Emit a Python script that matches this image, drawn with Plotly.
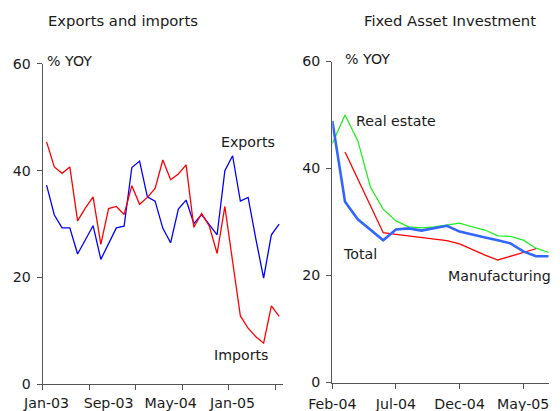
import plotly.graph_objects as go

# ---- Left panel: Exports and imports (% YOY), monthly Jan-03 .. Jul-05
trade_months = ["Jan-03","Feb-03","Mar-03","Apr-03","May-03","Jun-03","Jul-03","Aug-03","Sep-03","Oct-03",
                "Nov-03","Dec-03","Jan-04","Feb-04","Mar-04","Apr-04","May-04","Jun-04","Jul-04","Aug-04",
                "Sep-04","Oct-04","Nov-04","Dec-04","Jan-05","Feb-05","Mar-05","Apr-05","May-05","Jun-05","Jul-05"]
exports = [37.3, 31.7, 29.3, 29.3, 24.4, 27.2, 29.7, 23.4, 26.3, 29.3,
           29.6, 40.6, 41.8, 35.1, 34.3, 29.2, 26.5, 32.8, 34.5, 30.1,
           31.8, 30.0, 28.0, 40.0, 42.8, 34.3, 35.0, 27.2, 19.9, 28.0, 30.0]
imports = [45.4, 40.7, 39.5, 40.7, 30.6, 33.0, 35.1, 26.2, 32.9, 33.3,
           31.8, 37.2, 33.7, 35.0, 36.7, 42.0, 38.3, 39.4, 41.1, 29.4,
           32.0, 29.6, 24.5, 33.3, 23.0, 12.8, 10.5, 8.9, 7.7, 14.7, 12.7]
trade_label_idx = [0, 8, 16, 24]

# ---- Right panel: Fixed Asset Investment (% YOY), monthly Feb-04 .. Jul-05
fai_months = ["Feb-04","Mar-04","Apr-04","May-04","Jun-04","Jul-04","Aug-04","Sep-04","Oct-04","Nov-04",
              "Dec-04","Jan-05","Feb-05","Mar-05","Apr-05","May-05","Jun-05","Jul-05"]
fai_total = [48.9, 33.8, 30.5, 28.5, 26.6, 28.6, 28.8, 28.4, 28.8, 29.3,
             28.2, 27.6, 27.1, 26.6, 26.0, 24.5, 23.6, 23.6]
fai_real_estate = [44.7, 50.0, 45.2, 36.5, 32.4, 30.2, 29.1, 28.9, 29.1, 29.4,
                   29.8, 29.1, 28.5, 27.4, 27.3, 26.6, 25.1, 24.3]
fai_manufacturing = [None, 43.1, 38.1, 33.1, 28.0, 27.7, 27.4, 27.1, 26.8, 26.5,
                     25.9, 24.8, 23.8, 22.9, 23.6, 24.3, 25.0, None]
fai_label_idx = [0, 5, 10, 15]

y_ticks = [0, 20, 40, 60]

FONT = "DejaVu Sans"
TXT = "#1a1a1a"
AX = "#555555"
FS = 14.2
FS_TITLE = 14.8

# The page body has an 8px margin, so the figure is drawn 8px smaller and
# all reference pixel positions are shifted by that offset.
OFF = 8
W, H = 560 - OFF, 411 - OFF

def px_x(p):
    return (p - OFF) / W

def px_y(p):
    return 1 - (p - OFF) / H

fig = go.Figure()

xi = list(range(len(trade_months)))
fig.add_trace(go.Scatter(x=xi, y=exports, mode="lines", line=dict(color="#0000FF", width=1.3),
                         name="Exports", xaxis="x", yaxis="y", hoverinfo="skip"))
fig.add_trace(go.Scatter(x=xi, y=imports, mode="lines", line=dict(color="#FF0000", width=1.3),
                         name="Imports", xaxis="x", yaxis="y", hoverinfo="skip"))

fi = list(range(len(fai_months)))
fig.add_trace(go.Scatter(x=fi, y=fai_real_estate, mode="lines", line=dict(color="#22EE22", width=1.3),
                         name="Real estate", xaxis="x2", yaxis="y2", hoverinfo="skip"))
fig.add_trace(go.Scatter(x=fi, y=fai_manufacturing, mode="lines", line=dict(color="#FF0000", width=1.3),
                         name="Manufacturing", xaxis="x2", yaxis="y2", hoverinfo="skip", connectgaps=False))
fig.add_trace(go.Scatter(x=fi, y=fai_total, mode="lines", line=dict(color="#3366FF", width=2.6),
                         name="Total", xaxis="x2", yaxis="y2", hoverinfo="skip"))

n_trade = len(trade_months)
n_fai = len(fai_months)

common_axis = dict(showgrid=False, zeroline=False, showline=True, linecolor=AX, linewidth=1.3,
                   tickfont=dict(family=FONT, size=FS, color=TXT), fixedrange=True,
                   automargin=False)

fig.update_layout(
    width=W, height=H,
    autosize=False,
    margin=dict(l=0, r=0, t=0, b=0, pad=0),
    paper_bgcolor="white", plot_bgcolor="white",
    showlegend=False,
    font=dict(family=FONT, size=FS, color=TXT),
    xaxis=dict(**common_axis,
               domain=[px_x(42.7), px_x(283.0)],
               range=[-0.5, n_trade - 0.5],
               tickmode="array",
               tickvals=trade_label_idx,
               ticktext=[trade_months[i] for i in trade_label_idx],
               ticks="",
               ticklabelstandoff=6,
               minor=dict(tickmode="array",
                          tickvals=[k - 0.5 for k in range(0, n_trade, 6)],
                          ticks="outside", ticklen=5, tickcolor=AX, tickwidth=1.3),
               anchor="y"),
    yaxis=dict(**common_axis,
               domain=[px_y(384.3), px_y(63.9)],
               range=[0, 60],
               tickmode="array", tickvals=y_ticks,
               ticks="outside", ticklen=5, tickcolor=AX, tickwidth=1.3,
               ticklabelstandoff=3,
               anchor="x"),
    xaxis2=dict(**common_axis,
                domain=[px_x(332.3), px_x(548.7)],
                range=[0, n_fai - 1],
                tickmode="array",
                tickvals=fai_label_idx,
                ticktext=[fai_months[i] for i in fai_label_idx],
                ticks="outside", ticklen=5, tickcolor=AX, tickwidth=1.3,
                ticklabelstandoff=3,
                anchor="y2"),
    yaxis2=dict(**common_axis,
                domain=[px_y(382.5), px_y(61.5)],
                range=[0, 60],
                tickmode="array", tickvals=y_ticks,
                ticks="outside", ticklen=5, tickcolor=AX, tickwidth=1.3,
                ticklabelstandoff=3,
                anchor="x2"),
)

ann = dict(showarrow=False, font=dict(family=FONT, size=FS, color=TXT))
title_font = dict(family=FONT, size=FS_TITLE, color=TXT)
fig.add_annotation(text="Exports and imports", xref="paper", yref="paper",
                   x=px_x(123), y=px_y(21), xanchor="center", yanchor="middle",
                   showarrow=False, font=title_font)
fig.add_annotation(text="Fixed Asset Investment", xref="paper", yref="paper",
                   x=px_x(449.5), y=px_y(21), xanchor="center", yanchor="middle",
                   showarrow=False, font=title_font)
fig.add_annotation(text="% YOY", xref="x", yref="y", x=-0.2, y=60, yshift=3,
                   xanchor="left", yanchor="middle", **ann)
fig.add_annotation(text="% YOY", xref="x2", yref="y2", x=0.84, y=60, yshift=2,
                   xanchor="left", yanchor="middle", **ann)
fig.add_annotation(text="Exports", xref="x", yref="y", x=26.0, y=45.4,
                   xanchor="center", yanchor="middle", **ann)
fig.add_annotation(text="Imports", xref="x", yref="y", x=25.1, y=5.5,
                   xanchor="center", yanchor="middle", **ann)
fig.add_annotation(text="Real estate", xref="x2", yref="y2", x=5.0, y=48.9,
                   xanchor="center", yanchor="middle", **ann)
fig.add_annotation(text="Total", xref="x2", yref="y2", x=2.18, y=24.0,
                   xanchor="center", yanchor="middle", **ann)
fig.add_annotation(text="Manufacturing", xref="x2", yref="y2", x=13.17, y=19.9,
                   xanchor="center", yanchor="middle", **ann)

fig.write_html("out.html")
